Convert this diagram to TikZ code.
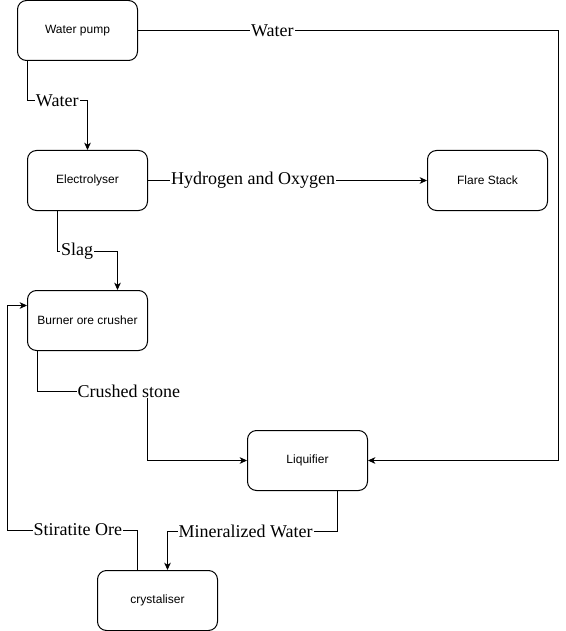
\documentclass[tikz,border=0pt]{standalone}
\usepackage{fontspec}
\setmainfont{Liberation Serif}
\setsansfont{Liberation Sans}
\usetikzlibrary{arrows.meta,positioning,calc}

\begin{document}
\begin{tikzpicture}[
    x=0.75pt, y=-0.75pt,
    unit/.style={draw, rectangle, rounded corners=6.75pt, minimum width=90pt, minimum height=45pt, text centered, font=\sffamily\fontsize{9}{11}\selectfont, line width=0.75pt},
    line/.style={draw, line width=0.75pt, -{Stealth[length=5.5pt,width=5pt,inset=1.6pt]}},
    lbl/.style={fill=white, inner sep=0.8pt, font=\fontsize{13.5}{15}\selectfont}
]
\useasboundingbox (0,0) rectangle (566,631);

\node[unit] (pump) at (77.5,30.5) {Water pump};
\node[unit] (elec) at (87.5,180.5) {Electrolyser};
\node[unit] (flare) at (487.5,180.5) {Flare Stack};
\node[unit] (crusher) at (87.5,320.5) {Burner ore crusher};
\node[unit] (liq) at (307.5,460.5) {Liquifier};
\node[unit] (cryst) at (157.5,600.5) {crystaliser};

\draw[line] (pump.east) -- node[lbl,pos=0.32]{Water} ++(420,0) |- (liq.east);
\draw[line] ([xshift=7.5pt]pump.south west) -- ++(0,40) -| node[lbl,pos=0.25]{Water} (elec.north);
\draw[line] (elec.east) -- node[lbl,pos=0.377]{Hydrogen and Oxygen} (flare.west);
\draw[line] ([xshift=22.5pt]elec.south west) -- ++(0,40) -| node[lbl,pos=0.167]{Slag} ([xshift=22.5pt]crusher.north);

% crusher to liquifier and on to the crystaliser
\draw[line] ([xshift=7.5pt]crusher.south west) -- ++(0,40) -- node[lbl,pos=0.836]{Crushed stone} ++(110,0) |- (liq.west);
\draw[line] ([xshift=22.5pt]liq.south) -- ++(0,40) -| node[lbl,pos=0.27]{Mineralized Water} ([xshift=7.5pt]cryst.north);
\draw[line] ([xshift=-15pt]cryst.north) -- ++(0,-40) -- node[lbl,pos=0.458]{Stiratite Ore} ++(-130,0) |- ([yshift=11.25pt]crusher.west);

\end{tikzpicture}
\end{document}
